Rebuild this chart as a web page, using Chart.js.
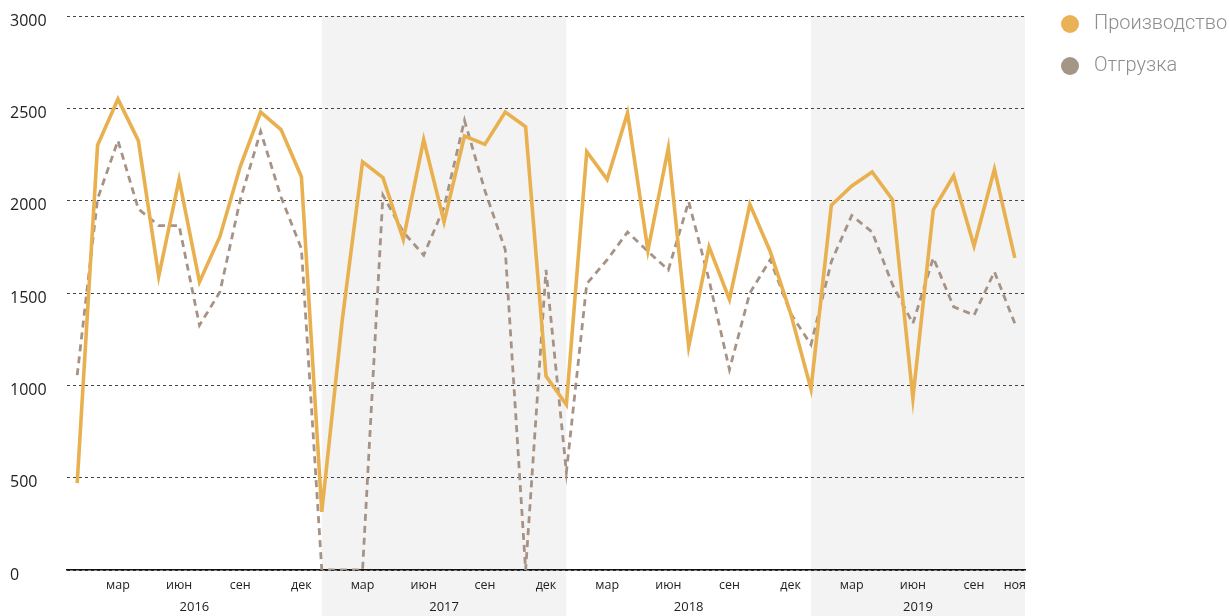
<!DOCTYPE html>
<html>
<head>
<meta charset="utf-8">
<script src="https://cdn.jsdelivr.net/npm/chart.js@4"></script>
<style>
html,body{margin:0;padding:0;background:#fff;overflow:hidden;}
</style>
</head>
<body>
<canvas id="c" width="1229" height="616"></canvas>
<script>
const years = ['2016', '2017', '2018', '2019'];
const monthNames = ['янв','фев','мар','апр','май','июн','июл','авг','сен','окт','ноя','дек'];
const shownMonths = ['мар', 'июн', 'сен', 'дек'];
const seriesNames = ['Производство', 'Отгрузка'];

const production = [
  470, 2300, 2550, 2325, 1590, 2115, 1560, 1805, 2185, 2480, 2385, 2130,
  315, 1350, 2210, 2125, 1790, 2330, 1885, 2350, 2305, 2480, 2400, 1050,
  895, 2265, 2115, 2475, 1730, 2285, 1210, 1750, 1465, 1980, 1725, 1390,
  980, 1975, 2080, 2155, 2005, 930, 1950, 2135, 1755, 2170, 1690
];
const shipment = [
  1055, 2010, 2325, 1955, 1865, 1865, 1325, 1505, 2005, 2375, 2020, 1740,
  0, 0, 0, 2030, 1830, 1705, 1965, 2435, 2055, 1735, 0, 1625,
  530, 1550, 1680, 1830, 1725, 1625, 1995, 1570, 1085, 1500, 1680, 1390,
  1220, 1670, 1920, 1830, 1545, 1335, 1690, 1425, 1380, 1615, 1335
];
const yTicks = [0, 500, 1000, 1500, 2000, 2500, 3000];

// categories: month + year for each data point
const categories = [];
for (const y of years) for (const m of monthNames) {
  if (categories.length < production.length) categories.push(m + ' ' + y);
}

// year bands in index units
function yearBands() {
  const n = categories.length;
  return years.map((y, i) => {
    const first = categories.findIndex(c => c.endsWith(y));
    const nextFirst = (i < years.length - 1) ? categories.findIndex(c => c.endsWith(years[i + 1])) : -1;
    const start = i === 0 ? -0.5 : first;
    const end = nextFirst >= 0 ? nextFirst : n - 0.5;
    return {start, end, center: (start + end) / 2, shaded: i % 2 === 1};
  });
}

const bandPlugin = {
  id: 'bands',
  beforeDraw(chart) {
    const {ctx, chartArea} = chart;
    const sx = chart.scales.x2;
    ctx.save();
    ctx.fillStyle = '#f3f3f3';
    yearBands().forEach(b => {
      if (!b.shaded) return;
      const x0 = sx.getPixelForValue(b.start);
      const x1 = sx.getPixelForValue(b.end);
      ctx.fillRect(x0, chartArea.top, x1 - x0, chart.height - chartArea.top);
    });
    ctx.restore();
  }
};

const legendPlugin = {
  id: 'sideLegend',
  afterDraw(chart) {
    const {ctx, chartArea} = chart;
    ctx.save();
    chart.data.datasets.forEach((ds, i) => {
      const cx = chartArea.right + 45;
      const cy = 24 + i * 42;
      ctx.beginPath();
      ctx.arc(cx, cy, 9, 0, Math.PI * 2);
      ctx.fillStyle = ds.legendColor;
      ctx.fill();
      ctx.font = '300 20px Roboto';
      ctx.fillStyle = '#8e8e8e';
      ctx.textBaseline = 'middle';
      ctx.textAlign = 'left';
      ctx.fillText(ds.label, cx + 24, cy);
    });
    ctx.restore();
  }
};

new Chart(document.getElementById('c'), {
  type: 'line',
  data: {
    labels: categories,
    datasets: [
      {
        label: seriesNames[0],
        data: production,
        borderColor: '#E9B050',
        legendColor: '#EAB256',
        borderWidth: 3.6,
        pointRadius: 0,
        tension: 0,
        fill: false
      },
      {
        label: seriesNames[1],
        data: shipment,
        borderColor: '#A69385',
        legendColor: '#A59586',
        borderWidth: 2.8,
        borderDash: [7, 5],
        pointRadius: 0,
        tension: 0,
        fill: false
      }
    ]
  },
  options: {
    responsive: false,
    devicePixelRatio: 1,
    animation: false,
    layout: {padding: {left: 10, right: 204, top: 16, bottom: 0}},
    plugins: {legend: {display: false}, tooltip: {enabled: false}},
    scales: {
      x: {
        type: 'category',
        offset: true,
        grid: {display: false, drawTicks: false},
        border: {display: true, color: '#111', width: 1.5},
        afterFit: function (axis) { axis.height = 22; },
        ticks: {
          autoSkip: false,
          maxRotation: 0,
          padding: 8,
          color: '#222',
          font: {family: 'Open Sans', size: 12.5},
          callback: function (value, index) {
            const m = categories[index].split(' ')[0];
            if (index === categories.length - 1 || shownMonths.includes(m)) return m;
            return '';
          }
        }
      },
      x2: {
        type: 'linear',
        position: 'bottom',
        min: -0.5,
        max: categories.length - 0.5,
        bounds: 'data',
        grid: {display: false, drawTicks: false},
        border: {display: false},
        afterFit: function (axis) { axis.height = 24; },
        afterBuildTicks: function (axis) {
          axis.ticks = yearBands().map(b => ({value: b.center}));
        },
        ticks: {
          autoSkip: false,
          maxRotation: 0,
          padding: 7,
          color: '#222',
          font: {family: 'Open Sans', size: 13},
          callback: function (value, index) { return years[index]; }
        }
      },
      y: {
        min: 0,
        max: 3000,
        afterBuildTicks: function (axis) {
          axis.ticks = yTicks.map(v => ({value: v}));
        },
        afterFit: function (axis) { axis.width = 57; },
        grid: {color: '#444', lineWidth: 1, drawTicks: false},
        border: {display: false, dash: [3, 3]},
        ticks: {
          crossAlign: 'far',
          padding: 0,
          labelOffset: 5,
          color: '#222',
          font: {family: 'Open Sans', size: 16},
          callback: function (value) { return String(value); }
        }
      }
    }
  },
  plugins: [bandPlugin, legendPlugin]
});
</script>
</body>
</html>
